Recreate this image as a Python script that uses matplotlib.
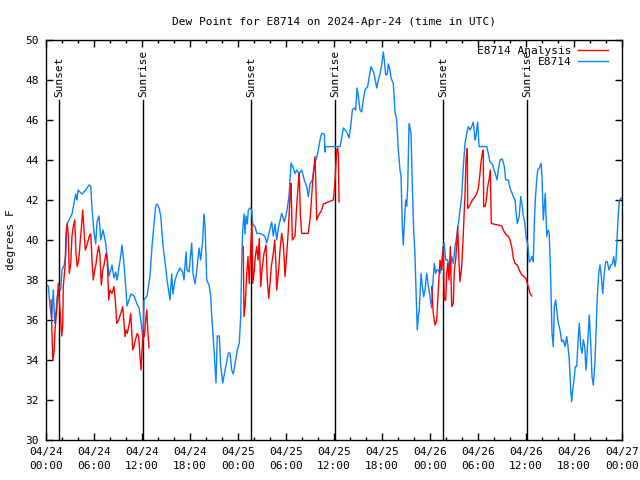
import numpy as np
import pandas as pd
import matplotlib
matplotlib.use('Agg')
import matplotlib.pyplot as plt
import matplotlib.dates as mdates

plt.rcParams['font.family'] = ['DejaVu Sans Mono']

start = pd.Timestamp('2024-04-24 00:00')
end = pd.Timestamp('2024-04-27 00:00')

# hours after 04/24 00:00 UTC, dew point in F
obs_hours = [0.0, 0.29, 0.5, 0.71, 0.91, 1.09, 1.25, 1.41, 1.66, 1.84, 2.0, 2.25, 2.46, 2.63,
             3.0, 3.25, 3.71, 3.88, 4.0, 4.5, 4.96, 5.38, 5.59, 5.75, 6.0, 6.21, 6.38, 6.63,
             6.84, 7.13, 7.46, 7.63, 7.88, 8.09, 8.25, 8.5, 8.71, 8.88, 9.34, 9.5, 9.75, 9.96,
             10.13, 10.38, 10.63, 11.0, 11.38, 11.63, 11.88, 12.13, 12.25, 12.63, 13.0, 13.25,
             13.5, 13.71, 13.88, 14.13, 14.34, 14.63, 15.0, 15.13, 15.5, 15.71, 15.88, 16.13,
             16.38, 16.75, 17.09, 17.25, 17.5, 17.63, 17.88, 18.21, 18.38, 18.63, 18.88, 19.13,
             19.34, 19.59, 19.75, 19.88, 20.09, 20.38, 20.59, 20.71, 20.84, 21.0, 21.25, 21.41,
             21.66, 21.84, 22.09, 22.38, 22.59, 22.79, 23.0, 23.21, 23.41, 23.63, 23.91, 24.16,
             24.34, 24.46, 24.59, 24.75, 24.88, 25.0, 25.16, 25.29, 25.5, 25.71, 25.84, 26.13,
             26.34, 26.66, 26.96, 27.38, 27.59, 27.79, 28.21, 28.41, 28.63, 28.84, 29.04, 29.46,
             29.79, 30.09, 30.38, 30.63, 30.91, 31.13, 31.34, 31.63, 31.96, 32.29, 32.59, 32.79,
             33.0, 33.29, 33.63, 33.96, 34.25, 34.46, 34.79, 34.88, 34.94, 36.75, 36.96, 37.16,
             37.38, 37.59, 37.88, 38.13, 38.29, 38.54, 38.71, 38.88, 39.04, 39.25, 39.46, 39.66,
             39.88, 40.21, 40.41, 40.63, 40.84, 41.04, 41.34, 41.54, 41.75, 41.96, 42.16, 42.29,
             42.46, 42.66, 42.79, 43.0, 43.13, 43.41, 43.63, 43.84, 44.04, 44.25, 44.38, 44.54,
             44.66, 44.79, 44.96, 45.09, 45.21, 45.38, 45.5, 45.63, 45.79, 45.96, 46.13, 46.25,
             46.41, 46.54, 46.66, 46.88, 47.04, 47.21, 47.38, 47.59, 47.79, 48.0, 48.21, 48.34,
             48.54, 48.71, 48.84, 49.04, 49.25, 49.46, 49.66, 49.79, 49.96, 50.21, 50.5, 50.71,
             50.91, 51.13, 51.34, 51.54, 51.75, 51.96, 52.16, 52.38, 52.59, 52.79, 53.0, 53.21,
             53.41, 53.63, 53.75, 53.96, 54.13, 55.09, 55.29, 55.5, 55.79, 56.0, 56.21, 56.38,
             56.54, 56.75, 57.04, 57.29, 57.46, 57.79, 58.0, 58.21, 58.41, 58.63, 58.75, 58.91,
             59.16, 59.34, 59.5, 59.66, 59.84, 60.0, 60.16, 60.29, 60.41, 60.59, 60.75, 60.91,
             61.04, 61.16, 61.34, 61.46, 61.66, 61.88, 62.0, 62.16, 62.29, 62.41, 62.59, 62.75,
             62.91, 63.09, 63.25, 63.41, 63.54, 63.71, 63.84, 64.04, 64.25, 64.46, 64.66, 64.88,
             65.09, 65.25, 65.41, 65.59, 65.71, 65.84, 66.0, 66.16, 66.34, 66.54, 66.66, 66.84,
             67.0, 67.16, 67.34, 67.5, 67.66, 67.84, 67.91, 68.09, 68.25, 68.41, 68.63, 68.75,
             68.91, 69.09, 69.25, 69.41, 69.59, 69.75, 69.96, 70.16, 70.38, 70.59, 70.79, 70.96,
             71.13, 71.25, 71.38, 71.54, 71.66, 71.88]
obs_dewpt = [37.75, 37.7, 36.7, 36.1, 37.5, 35.85, 36.4, 37.2, 37.7, 37.5, 38.5, 38.7, 39.2, 40.8,
             41.1, 41.3, 42.3, 42.0, 42.5, 42.3, 42.5, 42.75, 42.7, 41.6, 40.4, 39.8, 40.9, 41.2,
             40.0, 40.5, 39.85, 39.2, 38.2, 38.5, 38.75, 38.1, 38.4, 38.0, 39.2, 39.75, 38.8, 37.7,
             36.7, 37.0, 37.3, 37.2, 36.8, 36.6, 35.9, 35.0, 37.0, 37.2, 38.2, 39.7,
             40.8, 41.7, 41.8, 41.6, 41.2, 39.7, 38.5, 38.0, 37.0, 38.3, 37.3, 38.0,
             38.3, 38.6, 38.4, 38.0, 39.4, 38.5, 38.4, 39.85, 38.3, 37.8, 38.6, 39.6,
             39.0, 40.0, 41.3, 40.7, 38.0, 37.75, 37.2, 36.2, 35.5, 34.5, 32.85, 35.2,
             35.2, 33.7, 32.85, 33.5, 33.9, 34.35, 34.35, 33.5, 33.3, 33.8, 34.5, 34.85,
             36.2, 38.8, 40.5, 41.3, 40.3, 41.2, 40.8, 41.5, 41.6, 41.5, 40.8, 40.67,
             40.33, 40.33, 40.3, 40.17, 39.85, 40.2, 40.9, 40.2, 40.8, 40.0, 40.6, 41.33,
             40.9, 41.4, 42.2, 43.85, 43.6, 43.33, 43.5, 43.3, 43.5, 43.0, 42.67, 42.17,
             42.8, 43.0, 43.85, 44.33, 45.0, 45.33, 45.3, 44.4, 44.67, 44.67, 45.1, 45.6,
             45.5, 45.4, 45.1, 45.83, 46.5, 46.6, 46.5, 47.6, 47.2, 46.5, 46.4, 47.0,
             47.5, 47.67, 48.17, 48.67, 48.5, 48.25, 47.6, 48.0, 48.3, 48.75, 49.4, 49.0,
             48.25, 48.3, 48.8, 48.5, 48.1, 47.83, 46.4, 46.0, 44.5, 43.5, 43.2, 40.67,
             39.75, 40.8, 42.0, 41.7, 42.6, 45.83, 45.6, 45.33, 42.67, 40.5, 39.17, 37.5,
             35.5, 36.17, 36.5, 38.33, 37.7, 37.17, 37.5, 38.33, 37.7, 37.17, 36.6, 37.7,
             38.83, 38.33, 38.5, 38.5, 38.33, 38.83, 39.67, 39.83, 39.0, 39.0, 38.33, 39.17,
             38.83, 39.67, 40.17, 40.83, 41.5, 42.17, 43.67, 44.83, 45.33, 45.67, 45.5, 45.67,
             45.9, 45.0, 45.2, 45.9, 44.67, 44.67, 44.33, 43.9, 43.8, 43.5, 43.25, 43.0,
             43.5, 44.0, 44.05, 43.67, 43.0, 43.0, 42.6, 42.4, 42.17, 42.0, 41.4, 40.83,
             41.2, 42.17, 41.8, 41.2, 40.9, 40.17, 39.9, 39.5, 38.9, 39.0, 39.17, 38.9,
             40.83, 42.0, 43.0, 43.5, 43.6, 43.83, 43.17, 41.0, 41.7, 42.33, 40.17, 40.5,
             40.33, 38.0, 35.33, 34.67, 36.67, 37.0, 36.5, 35.83, 35.5, 34.92, 35.0, 34.67,
             35.17, 34.67, 34.0, 32.5, 31.92, 32.5, 33.0, 33.67, 33.67, 35.17, 35.83, 34.67,
             34.33, 35.0, 34.67, 33.5, 34.5, 35.83, 36.25, 34.83, 33.17, 32.75, 34.0, 35.33,
             37.17, 38.33, 38.75, 38.2, 37.33, 38.17, 38.92, 38.92, 38.5, 38.75, 38.8, 39.17,
             38.67, 39.0, 40.0, 41.33, 41.92, 42.1]

# analysis series, three separate runs
ana1_hours = [0.63, 0.84, 1.0, 1.13, 1.34, 1.54, 1.66, 1.84, 1.96, 2.09, 2.16, 2.38, 2.5, 2.66,
              2.79, 2.91, 3.09, 3.25, 3.41, 3.59, 3.75, 3.91, 4.09, 4.25, 4.46, 4.59, 4.75, 4.91,
              5.16, 5.41, 5.59, 5.75, 5.91, 6.09, 6.25, 6.41, 6.59, 6.75, 6.91, 7.09, 7.25, 7.5,
              7.66, 7.84, 8.0, 8.25, 8.5, 8.66, 8.84, 9.09, 9.34, 9.59, 9.75, 9.88, 10.0, 10.16,
              10.41, 10.59, 10.75, 10.84, 11.0, 11.16, 11.41, 11.59, 11.75, 11.88, 12.0, 12.16,
              12.29, 12.46, 12.59, 12.75, 12.88]
ana1_dewpt = [37.0, 34.0, 34.35, 35.5, 36.5, 37.83, 37.0, 36.0, 35.2, 35.7, 37.67, 38.67, 40.33, 40.83,
              40.2, 38.33, 38.8, 40.2, 40.67, 41.0, 39.33, 38.67, 39.0, 39.8, 40.8, 41.5, 40.5, 39.5,
              39.8, 40.2, 40.3, 39.0, 38.0, 38.5, 38.8, 39.33, 39.7, 39.2, 37.75, 38.5, 38.75, 39.33,
              39.0, 37.0, 37.5, 37.33, 37.67, 37.0, 35.83, 36.0, 36.33, 36.67, 35.83, 35.17, 35.5, 35.33,
              35.83, 36.33, 35.17, 34.5, 34.67, 35.0, 35.33, 35.17, 34.17, 33.5, 34.5, 35.5,
              35.17, 36.0, 36.5, 35.33, 34.6]
ana2_hours = [24.66, 24.75, 24.91, 25.09, 25.25, 25.41, 25.59, 25.75, 25.84, 26.0, 26.16, 26.34,
              26.5, 26.66, 26.84, 27.0, 27.25, 27.5, 27.66, 27.84, 28.0, 28.16, 28.41, 28.59,
              28.75, 28.84, 29.0, 29.16, 29.25, 29.46, 29.66, 29.88, 30.09, 30.29, 30.5, 30.63,
              30.79, 31.13, 31.38, 31.54, 31.66, 31.79, 31.96, 32.79, 33.04, 33.29, 33.46, 33.63,
              33.75, 33.84, 34.04, 34.46, 34.66, 35.91, 36.04, 36.13, 36.34, 36.46, 36.54, 36.63]
ana2_dewpt = [39.67, 36.17, 36.8, 38.33, 39.17, 37.83, 39.67, 40.83, 37.83, 38.33, 39.17, 39.67,
              39.0, 40.08, 37.67, 38.5, 39.33, 39.75, 38.0, 37.08, 37.83, 38.67, 39.33, 40.0,
              38.67, 37.5, 38.17, 38.9, 39.5, 40.33, 39.83, 38.17, 39.3, 40.5, 42.17, 42.83,
              40.0, 40.2, 42.0, 42.83, 43.33, 41.33, 40.33, 40.33, 41.17, 42.67, 43.5, 44.17,
              42.5, 41.0, 41.2, 41.5, 41.8, 42.0, 42.5, 43.0, 44.5, 44.6, 44.3, 41.9]
ana3_hours = [48.21, 48.41, 48.63, 48.84, 49.04, 49.25, 49.46, 49.66, 49.79, 49.96, 50.09, 50.21,
              50.38, 50.54, 50.71, 50.91, 51.04, 51.21, 51.34, 51.46, 51.63, 51.75, 51.96, 52.13,
              52.25, 52.38, 52.5, 52.66, 52.71, 53.0, 53.29, 53.63, 53.84, 54.04, 54.25, 54.38,
              54.54, 54.66, 54.71, 54.88, 55.04, 55.21, 55.38, 55.54, 55.66, 56.13, 56.54, 56.96,
              57.16, 57.38, 57.59, 57.79, 58.0, 58.21, 58.41, 58.63, 58.91, 59.16, 59.46, 59.66,
              60.0, 60.16, 60.34, 60.5, 60.71]
ana3_dewpt = [37.67, 36.33, 35.75, 36.0, 37.5, 39.0, 38.5, 39.67, 37.0, 37.0, 38.33, 38.83,
              38.0, 39.67, 36.67, 36.83, 38.5, 39.0, 39.83, 40.67, 38.83, 37.92, 38.67, 40.0,
              41.17, 42.33, 44.0, 44.58, 41.58, 41.75, 42.0, 42.17, 42.33, 42.58, 43.33, 43.92,
              44.33, 44.5, 41.67, 41.67, 42.0, 42.67, 43.0, 43.5, 40.83, 40.78, 40.75, 40.7,
              40.5, 40.33, 40.25, 40.17, 40.0, 39.67, 39.1, 38.83, 38.75, 38.5, 38.25, 38.2,
              38.08, 37.83, 37.6, 37.33, 37.2]

sun_times = ['2024-04-24 01:37', '2024-04-24 12:07', '2024-04-25 01:37',
             '2024-04-25 12:07', '2024-04-26 01:37', '2024-04-26 12:07']
sun_labels = ['Sunset', 'Sunrise', 'Sunset', 'Sunrise', 'Sunset', 'Sunrise']


def to_time(hours):
    return start + pd.to_timedelta(np.array(hours), unit='h')


fig = plt.figure(figsize=(6.4, 4.8), dpi=100)
ax = fig.add_axes([46 / 640, 40 / 480, 576 / 640, 400 / 480])

red = '#ff0000'
blue = '#0a84ff'

ana_line, = ax.plot(to_time(ana1_hours), ana1_dewpt, color=red, lw=1.0, zorder=3)
ax.plot(to_time(ana2_hours), ana2_dewpt, color=red, lw=1.0, zorder=3)
ax.plot(to_time(ana3_hours), ana3_dewpt, color=red, lw=1.0, zorder=3)
obs_line, = ax.plot(to_time(obs_hours), obs_dewpt, color=blue, lw=1.0, zorder=2)

for t, lab in zip(sun_times, sun_labels):
    t = pd.Timestamp(t)
    ax.plot([t, t], [30, 47], color='black', lw=1.0, zorder=1)
    ax.text(t, 47.15, lab, rotation=90, ha='center', va='bottom', fontsize=8)

ax.set_xlim(start, end)
ax.set_ylim(30, 50)
ax.set_yticks(np.arange(30, 51, 2))
ax.xaxis.set_major_locator(mdates.HourLocator(byhour=[0, 6, 12, 18]))
ax.xaxis.set_minor_locator(mdates.HourLocator(byhour=range(0, 24, 2)))
ax.xaxis.set_major_formatter(mdates.DateFormatter('%m/%d\n%H:%M'))
ax.tick_params(which='both', direction='in', top=True, right=True, labelsize=8, width=1.0)
ax.tick_params(which='major', length=5, pad=5)
ax.tick_params(which='minor', length=2.5)
for lbl in ax.get_xticklabels():
    lbl.set_linespacing(1.5)
for s in ax.spines.values():
    s.set_linewidth(1.0)

ax.set_title('Dew Point for E8714 on 2024-Apr-24 (time in UTC)', fontsize=8, pad=11)
ax.set_ylabel('degrees F', fontsize=8, labelpad=7)

ax.legend([ana_line, obs_line], ['E8714 Analysis', 'E8714'], loc='upper right',
          bbox_to_anchor=(1 - 8 / 576, 1.0),
          frameon=False, markerfirst=False, fontsize=8, handlelength=2.7,
          borderaxespad=0.1, labelspacing=0.15, handletextpad=0.6)

fig.savefig('out.png', dpi=100)
